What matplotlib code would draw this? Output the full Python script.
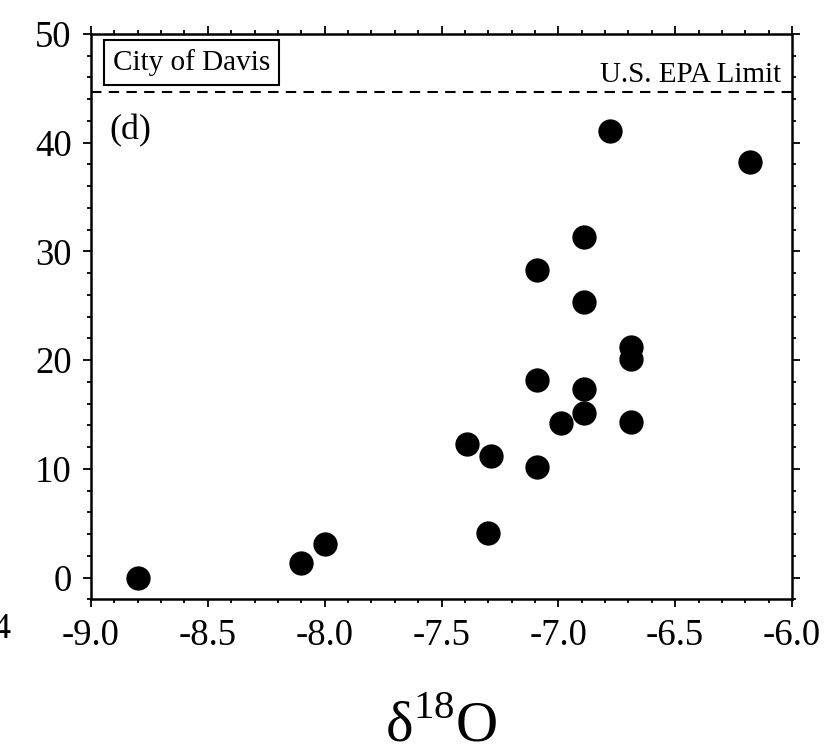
import matplotlib
matplotlib.use("Agg")
import matplotlib.pyplot as plt
from matplotlib.ticker import MultipleLocator

# delta-18O vs nitrate, City of Davis wells
d18o = [-8.80, -8.10, -8.00, -7.39, -7.29, -7.30, -7.09, -7.09, -7.09, -6.99,
        -6.89, -6.89, -6.89, -6.89, -6.78, -6.69, -6.69, -6.69, -6.18]
nitrate = [0.0, 1.3, 3.1, 12.3, 11.2, 4.1, 10.2, 28.3, 18.2, 14.2,
           31.3, 25.3, 17.3, 15.1, 41.1, 21.2, 20.1, 14.3, 38.2]
epa_limit = 44.7

x_ticks = [-9.0, -8.5, -8.0, -7.5, -7.0, -6.5, -6.0]
y_ticks = [0, 10, 20, 30, 40, 50]

plt.rcParams['font.family'] = ['Liberation Serif', 'DejaVu Serif']
plt.rcParams['mathtext.fontset'] = 'custom'
plt.rcParams['mathtext.rm'] = 'Liberation Serif'

fig = plt.figure(figsize=(8.32, 7.54), dpi=100)
ax = fig.add_axes([0.1094, 0.2052, 0.8425, 0.7498])

ax.plot(d18o, nitrate, 'o', color='black', markersize=17.5, markeredgewidth=0)
ax.axhline(epa_limit, color='black', lw=1.5, ls=(0, (5, 3.5)))

ax.set_xlim(-9.0, -6.0)
ax.set_ylim(-2, 50)
ax.set_xticks(x_ticks)
ax.set_xticklabels([f"{v:.1f}" for v in x_ticks])
ax.set_yticks(y_ticks)
ax.xaxis.set_minor_locator(MultipleLocator(0.1))
ax.yaxis.set_minor_locator(MultipleLocator(2))
ax.tick_params(which='both', direction='out', top=True, right=True, width=1.3)
ax.tick_params(which='major', length=6, labelsize=26.5, pad=8)
ax.tick_params(which='minor', length=3)
for s in ax.spines.values():
    s.set_linewidth(1.8)

ax.set_xlabel("δ$^{18}$O", fontsize=42, labelpad=33)

ax.text(0.031, 0.973, "City of Davis", transform=ax.transAxes, fontsize=21,
        va='top', ha='left',
        bbox=dict(boxstyle='square,pad=0.3', fc='white', ec='black', lw=1.5))
ax.text(0.985, 0.915, "U.S. EPA Limit", transform=ax.transAxes, fontsize=21,
        va='baseline', ha='right')
ax.text(0.026, 0.828, "(d)", transform=ax.transAxes, fontsize=26,
        va='center', ha='left')

# stray label fragment from neighbouring panel
fig.text(-0.009, 0.165, "4", fontsize=26, ha='left', va='center')

fig.savefig("out.png", dpi=100)
